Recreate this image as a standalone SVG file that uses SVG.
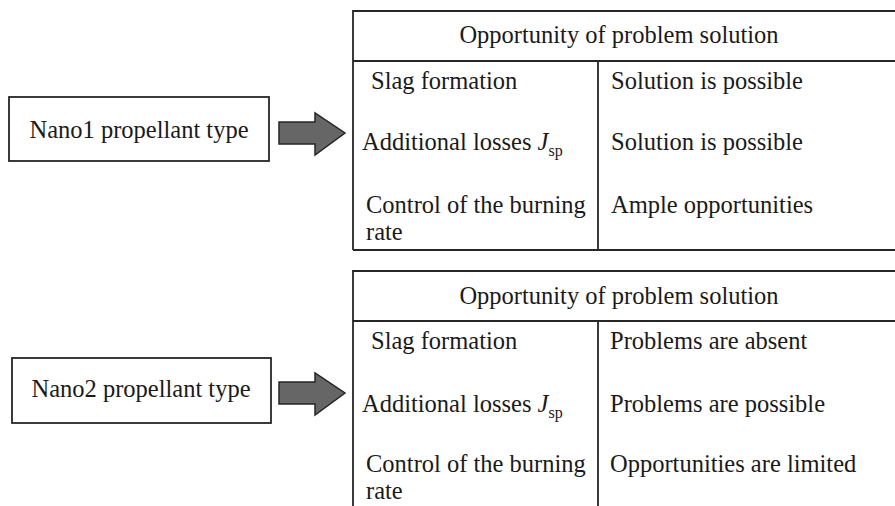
<svg xmlns="http://www.w3.org/2000/svg" width="895" height="506" viewBox="0 0 895 506">
<style>
text{font-family:"Liberation Serif","Times New Roman",serif;font-size:24.5px;fill:#1a1a1a}
.sub{font-size:16px}
.ln{stroke:#262626;stroke-width:1.8;fill:none}
.box{stroke:#262626;stroke-width:1.8;fill:#fff}
.arr{fill:#666;stroke:#262626;stroke-width:1.5;stroke-linejoin:miter}
</style>
<rect width="895" height="506" fill="#fff"/>
<g id="nano1">
<rect class="box" x="9" y="97" width="260" height="64"/>
<text x="139" y="138" text-anchor="middle">Nano1 propellant type</text>
</g>
<g id="nano2">
<rect class="box" x="12" y="358" width="259" height="65"/>
<text x="141" y="397" text-anchor="middle">Nano2 propellant type</text>
</g>
<g id="table1">
<path class="ln" d="M353 250 V11 H896 M353 61 H896 M598 61 V250 M353 250 H896"/>
<text x="619" y="43" text-anchor="middle">Opportunity of problem solution</text>
<text x="371" y="89">Slag formation</text>
<text x="362" y="150">Additional losses <tspan font-style="italic">J</tspan><tspan class="sub" dy="6">sp</tspan></text>
<text x="366" y="213">Control of the burning</text>
<text x="366" y="240">rate</text>
<text x="611" y="89">Solution is possible</text>
<text x="611" y="150">Solution is possible</text>
<text x="611" y="213">Ample opportunities</text>
</g>
<g id="table2">
<path class="ln" d="M353 507 V271 H896 M353 321 H896 M598 321 V507"/>
<text x="619" y="304" text-anchor="middle">Opportunity of problem solution</text>
<text x="371" y="349">Slag formation</text>
<text x="362" y="412">Additional losses <tspan font-style="italic">J</tspan><tspan class="sub" dy="6">sp</tspan></text>
<text x="366" y="472">Control of the burning</text>
<text x="366" y="499">rate</text>
<text x="610" y="349">Problems are absent</text>
<text x="610" y="412">Problems are possible</text>
<text x="610" y="472">Opportunities are limited</text>
</g>
<g id="connectors">
<polygon class="arr" points="279,122 315,122 315,113 345,133 315,155 315,144 279,144"/>
<polygon class="arr" points="279,382 315,382 315,373 345,393 315,415 315,404 279,404"/>
</g>
</svg>
